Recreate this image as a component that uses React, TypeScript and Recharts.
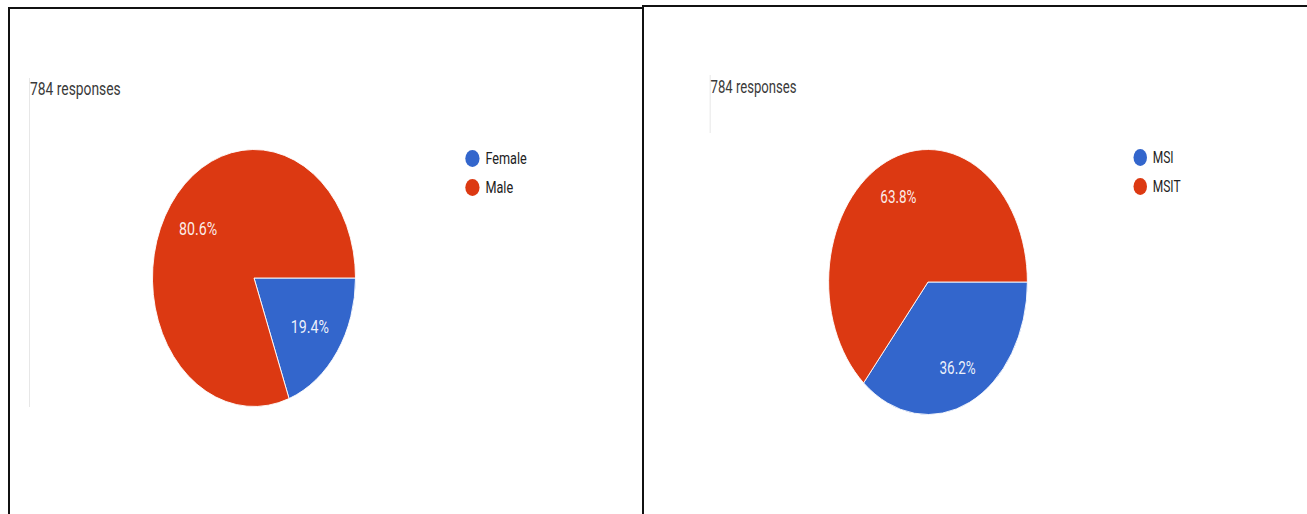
import { PieChart, Pie, Cell, Legend } from 'recharts';

// values (784 responses each)
const responseTitle = '784 responses';
const genderNames = ['Female', 'Male'];
const genderCounts = [152, 632];
const campusNames = ['MSI', 'MSIT'];
const campusCounts = [284, 500];
const sliceColors = ['#3366CC', '#DC3912'];

const RADIAN = Math.PI / 180;

function makePercentLabel(factor) {
  return function renderPercent(props) {
    const { cx, cy, midAngle, outerRadius, percent } = props;
    const r = outerRadius * factor;
    const x = cx + r * Math.cos(-midAngle * RADIAN);
    const y = cy + r * Math.sin(-midAngle * RADIAN);
    return (
      <text
        x={x}
        y={y}
        fill="#fff"
        fillOpacity={0.92}
        fontSize={18}
        fontFamily="Roboto, Arial, sans-serif"
        textAnchor="middle"
        dominantBaseline="central"
      >
        {`${(percent * 100).toFixed(1)}%`}
      </text>
    );
  };
}

function makeLegend(names) {
  return function LegendContent(props) {
    const payload = props.payload || [];
    return (
      <div style={{ fontFamily: 'Roboto, Arial, sans-serif', fontSize: 16, color: '#222' }}>
        {payload.map((entry, i) => (
          <div key={i} style={{ display: 'flex', alignItems: 'center', height: 29 }}>
            <span
              style={{
                display: 'inline-block',
                width: 18,
                height: 17,
                borderRadius: '50%',
                background: sliceColors[i],
                marginRight: 8,
              }}
            />
            <span>{entry.value ?? names[i]}</span>
          </div>
        ))}
      </div>
    );
  };
}

function PiePanel({ names, values, left, width, scale, cx, cy, radius, labelFactor, titleTop, lineTop, lineBottom, legendLeft, legendTop }) {
  const data = names.map((name, i) => ({ name, value: values[i] }));
  const titleLeft = 1.5;
  return (
    <div
      style={{
        position: 'absolute',
        left,
        top: 0,
        width,
        height: 514,
        transform: `scaleX(${scale})`,
        transformOrigin: '0 0',
      }}
    >
      <div
        style={{
          position: 'absolute',
          left: cx.lineX,
          top: lineTop,
          width: 1,
          height: lineBottom - lineTop,
          background: '#e0e0e0',
        }}
      />
      <div
        style={{
          position: 'absolute',
          left: cx.lineX + titleLeft,
          top: titleTop,
          fontFamily: 'Roboto, Arial, sans-serif',
          fontSize: 17.5,
          lineHeight: '20px',
          color: '#3a3a3a',
          whiteSpace: 'nowrap',
        }}
      >
        {responseTitle}
      </div>
      <PieChart width={width} height={514} margin={{ top: 0, right: 0, bottom: 0, left: 0 }}>
        <Pie
          data={data}
          dataKey="value"
          nameKey="name"
          cx={cx.pie}
          cy={cy}
          outerRadius={radius}
          startAngle={0}
          endAngle={-360}
          stroke="#fff"
          strokeWidth={1}
          label={makePercentLabel(labelFactor)}
          labelLine={false}
          isAnimationActive={false}
        >
          {data.map((d, i) => (
            <Cell key={d.name} fill={sliceColors[i]} />
          ))}
        </Pie>
        <Legend
          layout="vertical"
          align="right"
          verticalAlign="middle"
          content={makeLegend(names)}
          wrapperStyle={{ left: legendLeft, top: legendTop, width: 'auto', right: 'auto' }}
        />
      </PieChart>
    </div>
  );
}

export default function App() {
  return (
    <div style={{ position: 'absolute', left: 0, top: 0, width: 1307, height: 514, overflow: 'hidden', background: '#fff' }}>
      <PiePanel
        names={genderNames}
        values={genderCounts}
        left={0}
        width={814}
        scale={0.79}
        cx={{ pie: 321.5, lineX: 36.5 }}
        cy={278}
        radius={128.5}
        labelFactor={0.67}
        titleTop={79}
        lineTop={78}
        lineBottom={407}
        legendLeft={588.5}
        legendTop={143.5}
      />
      <PiePanel
        names={campusNames}
        values={campusCounts}
        left={643}
        width={880}
        scale={0.75}
        cx={{ pie: 380, lineX: 88.5 }}
        cy={282}
        radius={132.5}
        labelFactor={0.71}
        titleTop={77}
        lineTop={75}
        lineBottom={133}
        legendLeft={653.7}
        legendTop={142.5}
      />
      <div
        style={{
          position: 'absolute',
          left: 8,
          top: 7,
          width: 636,
          height: 540,
          boxSizing: 'border-box',
          border: '2px solid #111',
        }}
      />
      <div
        style={{
          position: 'absolute',
          left: 642,
          top: 5,
          width: 720,
          height: 540,
          boxSizing: 'border-box',
          border: '2px solid #111',
        }}
      />
    </div>
  );
}
